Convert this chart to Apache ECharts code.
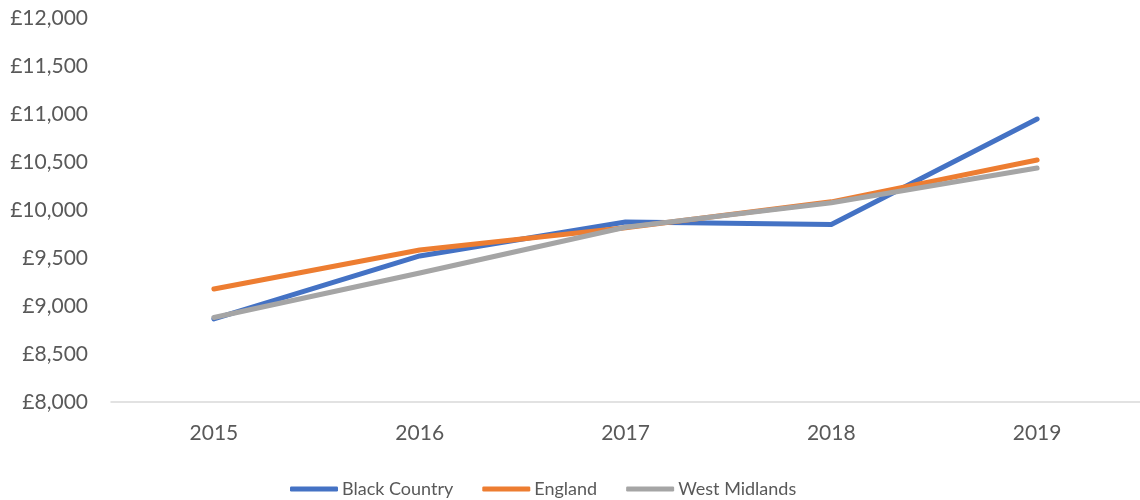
<!DOCTYPE html>
<html>
<head>
<meta charset="utf-8">
<script src="https://cdn.jsdelivr.net/npm/echarts@6/dist/echarts.min.js"></script>
<style>
  html, body { margin: 0; padding: 0; background: #fff; }
  #chart { width: 1140px; height: 500px; }
</style>
</head>
<body>
<div id="chart"></div>
<script>
var years = ['2015', '2016', '2017', '2018', '2019'];
var blackCountry = [8865, 9521, 9875, 9850, 10948];
var england = [9177, 9583, 9815, 10085, 10521];
var westMidlands = [8880, 9344, 9820, 10075, 10437];

var myChart = echarts.init(document.getElementById('chart'));

function lineSeries(name, data, color) {
    return {
        name: name,
        type: 'line',
        data: data,
        symbol: 'none',
        lineStyle: { width: 5, color: color, cap: 'round', join: 'round' },
        itemStyle: { color: color }
    };
}

var option = {
    animation: false,
    textStyle: { fontFamily: 'Lato, "Open Sans", sans-serif', color: '#595959' },
    grid: { left: 111, top: 18, width: 1034, height: 384 },
    legend: {
        top: 475,
        left: 285,
        itemWidth: 48,
        itemHeight: 5,
        itemGap: 29,
        icon: 'roundRect',
        textStyle: { fontSize: 18, color: '#595959', padding: [0, 0, 0, -1] },
        data: ['Black Country', 'England', 'West Midlands']
    },
    xAxis: {
        type: 'category',
        data: years,
        axisLine: { lineStyle: { color: '#d9d9d9', width: 1.5 } },
        axisTick: { show: false },
        axisLabel: { fontSize: 21, color: '#595959', margin: 21 }
    },
    yAxis: {
        type: 'value',
        min: 8000,
        max: 12000,
        interval: 500,
        axisLine: { show: false },
        axisTick: { show: false },
        splitLine: { show: false },
        axisLabel: {
            fontSize: 21,
            color: '#595959',
            margin: 23,
            formatter: function (v) { return '£' + v.toLocaleString('en-GB'); }
        }
    },
    series: [
        lineSeries('Black Country', blackCountry, '#4472C4'),
        lineSeries('England', england, '#ED7D31'),
        lineSeries('West Midlands', westMidlands, '#A5A5A5')
    ]
};
myChart.setOption(option);
</script>
</body>
</html>
